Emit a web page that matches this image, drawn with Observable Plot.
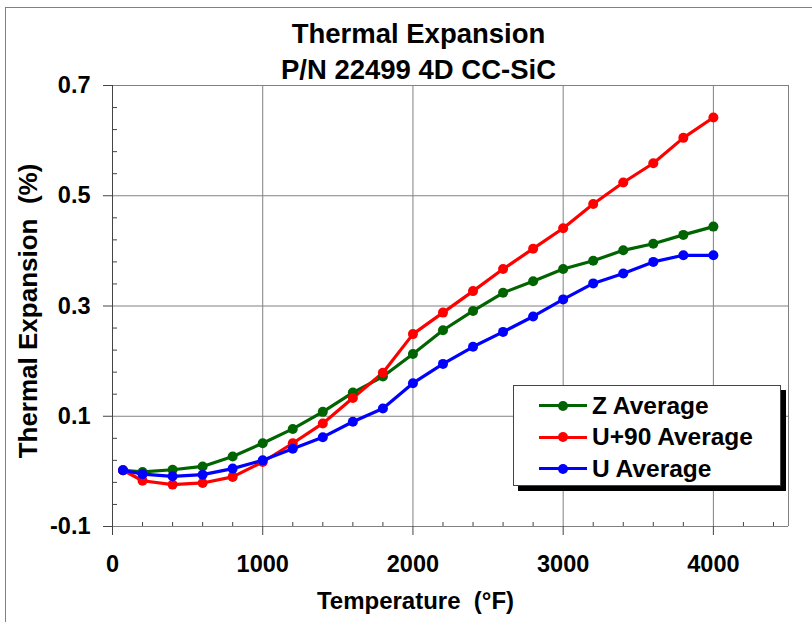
<!DOCTYPE html>
<html>
<head>
<meta charset="utf-8">
<script src="https://cdn.jsdelivr.net/npm/d3@7"></script>
<script src="https://cdn.jsdelivr.net/npm/@observablehq/plot@0.6"></script>
<style>
  body { margin: 0; background: #fff; }
  #wrap { position: relative; width: 812px; height: 622px; overflow: hidden; font-family: "Liberation Sans", Arial, sans-serif; }
  #frame { position: absolute; left: 5px; top: 7px; width: 900px; height: 700px; border-left: 1px solid #808080; border-top: 1px solid #808080; pointer-events: none; }
  #chart { position: absolute; left: 0; top: 0; }
  #legend { position: absolute; left: 513px; top: 385px; width: 268px; height: 101px; box-sizing: border-box; background: #fff; border: 1px solid #444; box-shadow: 5px 5px 0 #000; padding-top: 4px; }
  .row { display: flex; align-items: center; height: 31.5px; margin-left: 25px; }
  .sample { position: relative; width: 48px; height: 3px; margin-right: 5px; }
  .sample i { position: absolute; left: 19px; top: -3.5px; width: 10px; height: 10px; border-radius: 50%; }
  .row span { font-size: 24.5px; font-weight: bold; color: #000; }
</style>
</head>
<body>
<div id="wrap">
  <div id="chart"></div>
  <div id="frame"></div>
  <div id="legend"></div>
</div>
<script>
// ---- data ----
const temps = [70, 200, 400, 600, 800, 1000, 1200, 1400, 1600, 1800, 2000, 2200, 2400, 2600, 2800, 3000, 3200, 3400, 3600, 3800, 4000];
const zAverage = [0.002, -0.001, 0.003, 0.009, 0.027, 0.051, 0.077, 0.108, 0.143, 0.172, 0.213, 0.256, 0.291, 0.324, 0.345, 0.367, 0.382, 0.401, 0.413, 0.429, 0.444];
const u90Average = [0.002, -0.017, -0.024, -0.021, -0.010, 0.017, 0.051, 0.087, 0.133, 0.179, 0.249, 0.288, 0.327, 0.367, 0.404, 0.441, 0.485, 0.524, 0.559, 0.605, 0.642];
const uAverage = [0.002, -0.005, -0.009, -0.006, 0.005, 0.020, 0.041, 0.062, 0.090, 0.114, 0.160, 0.195, 0.226, 0.253, 0.281, 0.312, 0.341, 0.359, 0.380, 0.392, 0.392];
const seriesNames = ["Z Average", "U+90 Average", "U Average"];
const seriesColors = ["#006400", "#ff0000", "#0000ff"];
const xTicks = [0, 1000, 2000, 3000, 4000];
const xMinor = [200, 400, 600, 800, 1200, 1400, 1600, 1800, 2200, 2400, 2600, 2800, 3200, 3400, 3600, 3800, 4200, 4400];
const xGrid = [1000, 2000, 3000, 4000, 4500];
const yTicks = [-0.1, 0.1, 0.3, 0.5, 0.7];
const yMinor = [-0.06, -0.02, 0.02, 0.06, 0.14, 0.18, 0.22, 0.26, 0.34, 0.38, 0.42, 0.46, 0.54, 0.58, 0.62, 0.66];
const yGrid = [0.1, 0.3, 0.5, 0.7];
const title1 = "Thermal Expansion";
const title2 = "P/N 22499 4D CC-SiC";
const xLabel = "Temperature  (°F)";
const yLabel = "Thermal Expansion  (%)";

const seriesValues = [zAverage, u90Average, uAverage];
const rows = [];
seriesNames.forEach((name, s) => temps.forEach((t, i) => rows.push({series: name, t, v: seriesValues[s][i]})));

const font = "'Liberation Sans', Arial, sans-serif";

const chart = Plot.plot({
  width: 812,
  height: 622,
  marginLeft: 112,
  marginRight: 24,
  marginTop: 85,
  marginBottom: 96,
  style: {background: "transparent", fontFamily: font, color: "#000", overflow: "visible"},
  x: {domain: [0, 4500]},
  y: {domain: [-0.1, 0.7]},
  color: {domain: seriesNames, range: seriesColors},
  marks: [
    Plot.ruleX(xGrid, {stroke: "#808080", strokeWidth: 1}),
    Plot.ruleY(yGrid, {stroke: "#808080", strokeWidth: 1}),
    Plot.ruleX([0], {stroke: "#444", strokeWidth: 1}),
    Plot.ruleY([-0.1], {stroke: "#808080", strokeWidth: 1}),
    Plot.axisX(xMinor, {tickSize: -4, text: null, label: null, stroke: "#444"}),
    Plot.axisX(xTicks, {tickSize: 9, tickPadding: 20, fontSize: 23.5, fontWeight: "bold", label: null, stroke: "#444", tickFormat: d => String(d)}),
    Plot.axisY(yMinor, {tickSize: -5, text: null, label: null, stroke: "#444"}),
    Plot.axisY(yTicks, {tickSize: 9, tickPadding: 13, fontSize: 23.5, fontWeight: "bold", label: null, stroke: "#444", tickFormat: d => d.toFixed(1)}),
    Plot.line(rows, {x: "t", y: "v", stroke: "series", z: "series", strokeWidth: 3.2}),
    Plot.dot(rows, {x: "t", y: "v", fill: "series", r: 5}),
    Plot.text([title1], {frameAnchor: "top", lineAnchor: "middle", dx: -32, dy: -51, fontSize: 27.5, fontWeight: "bold", fill: "#000"}),
    Plot.text([title2], {frameAnchor: "top", lineAnchor: "middle", dx: -32, dy: -15, fontSize: 27.5, fontWeight: "bold", fill: "#000"}),
    Plot.text([xLabel], {frameAnchor: "bottom", lineAnchor: "middle", dx: -35, dy: 75, fontSize: 24, fontWeight: "bold", fill: "#000"}),
    Plot.text([yLabel], {frameAnchor: "left", textAnchor: "middle", lineAnchor: "middle", rotate: -90, dx: -84, dy: 5, fontSize: 26, fontWeight: "bold", fill: "#000"})
  ]
});
document.getElementById("chart").appendChild(chart);

const legend = document.getElementById("legend");
seriesNames.forEach((name, i) => {
  const row = document.createElement("div");
  row.className = "row";
  const sample = document.createElement("div");
  sample.className = "sample";
  sample.style.background = seriesColors[i];
  const dot = document.createElement("i");
  dot.style.background = seriesColors[i];
  sample.appendChild(dot);
  const label = document.createElement("span");
  label.textContent = name;
  row.appendChild(sample);
  row.appendChild(label);
  legend.appendChild(row);
});
</script>
</body>
</html>
